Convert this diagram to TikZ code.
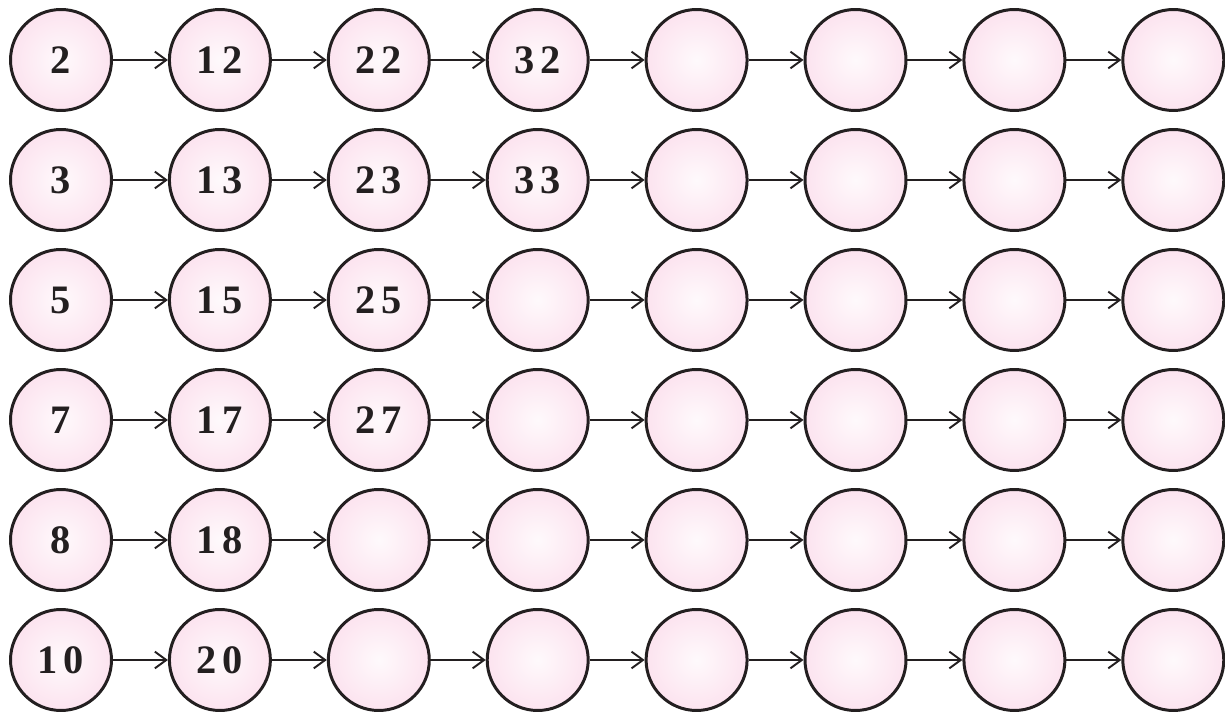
\documentclass[tikz,border=0pt]{standalone}
\usepackage{fontspec}
\setmainfont{Liberation Serif}
\usetikzlibrary{arrows.meta}
\definecolor{ballpink}{RGB}{252,227,239}
\definecolor{inkblack}{RGB}{35,31,32}
\tikzset{
  ball/.style={circle, draw=inkblack, line width=1.7pt, minimum size=2.02cm, inner sep=0pt,
    shading=radial, inner color=ballpink!20!white, outer color=ballpink},
  num/.style={text=inkblack, font=\bfseries\fontsize{23}{23}\selectfont\addfontfeatures{LetterSpace=15}},
  link/.style={-{Straight Barb[length=6.5pt,width=9.5pt]}, line width=1.1pt, draw=inkblack}
}
\begin{document}
\begin{tikzpicture}[x=0.02cm,y=-0.02cm]
  \useasboundingbox (0,0) rectangle (1225,712);

  % grid of balls
  \foreach \r in {1,...,6}
  {
    \foreach \c in {1,...,8}
    {
      \node[ball] (b-\r-\c) at ({61+158.9*(\c-1)},{60+120*(\r-1)}) {};
    }
    % arrows between neighbours
    \foreach \c [count=\n from 2] in {1,...,7}
    {
      \draw[link] (b-\r-\c) -- (b-\r-\n);
    }
  }

  % given numbers
  \foreach \r/\c/\t in {
    1/1/2, 1/2/12, 1/3/22, 1/4/32,
    2/1/3, 2/2/13, 2/3/23, 2/4/33,
    3/1/5, 3/2/15, 3/3/25,
    4/1/7, 4/2/17, 4/3/27,
    5/1/8, 5/2/18,
    6/1/10, 6/2/20
  }
  {
    \node[num] (n-\r-\c) at (b-\r-\c) {\t};
  }
\end{tikzpicture}
\end{document}
